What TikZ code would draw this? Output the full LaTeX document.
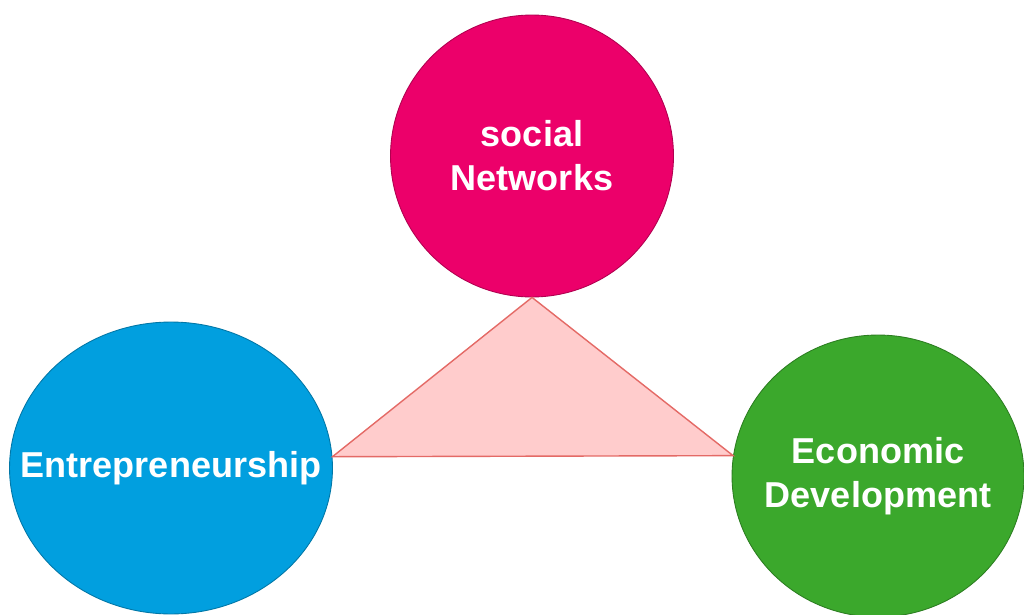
\documentclass[tikz,border=0pt]{standalone}
\usepackage{fontspec}
\setmainfont{Liberation Sans}
\usepackage{tikz}
\usetikzlibrary{shapes.geometric}
\definecolor{topicpink}{HTML}{EC006A}
\definecolor{topicblue}{HTML}{019FDF}
\definecolor{topicgreen}{HTML}{3BA82C}
\definecolor{linkred}{HTML}{E46A66}
\definecolor{linkfill}{HTML}{FFCCCC}

\begin{document}
\begin{tikzpicture}[
            x=0.02cm, y=-0.02cm,
            topic/.style={ellipse, draw=#1!75!black, fill=#1, inner sep=0pt, line width=0.5pt},
            topictext/.style={text=white, align=center, font=\fontsize{20.5}{25}\selectfont\bfseries}
        ]
          \useasboundingbox (0,0) rectangle (1024,615);
          % three topics, text set as centre labels so it does not widen the ellipse
          \node[topic=topicpink, minimum width=5.66cm, minimum height=5.64cm, label={[topictext]center:social\\Networks}] (net) at (532,156) {};
          \node[topic=topicblue, minimum width=6.46cm, minimum height=5.84cm, label={[topictext]center:Entrepreneurship}] (ent) at (171,468) {};
          \node[topic=topicgreen, minimum width=5.84cm, minimum height=5.64cm, label={[topictext]center:Economic\\Development}] (eco) at (878,476) {};
          % link triangle between them
          \draw[linkred, fill=linkfill, line width=0.8pt, line join=miter] (net.south) -- (ent.4) -- (eco.172) -- cycle;
        \end{tikzpicture}
\end{document}
